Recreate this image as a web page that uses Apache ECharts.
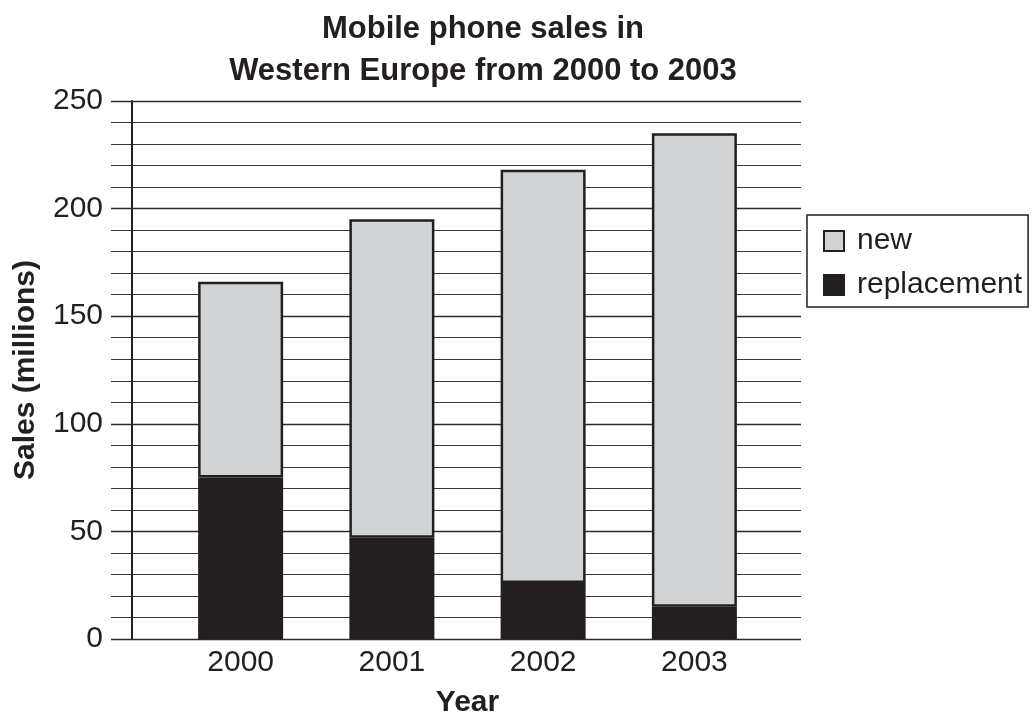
<!DOCTYPE html>
<html>
<head>
<meta charset="utf-8">
<script src="https://cdn.jsdelivr.net/npm/echarts@6/dist/echarts.min.js"></script>
<style>html,body{margin:0;padding:0;background:#fff}#c{width:1034px;height:714px}</style>
</head>
<body>
<div id="c"></div>
<script>
const years = ['2000', '2001', '2002', '2003'];
const replacementSales = [75, 47, 26, 15];
const newSales = [91, 148, 192, 220];
const yTicks = [0, 50, 100, 150, 200, 250];

const ink = '#231f20';
const grey = '#d1d3d4';
const font = '"Liberation Sans", Arial, Helvetica, sans-serif';

const chart = echarts.init(document.getElementById('c'), null, {renderer: 'canvas'});
chart.setOption({
  backgroundColor: '#fff',
  animation: false,
  textStyle: {fontFamily: font, color: ink},
  title: {
    text: 'Mobile phone sales in\nWestern Europe from 2000 to 2003',
    left: 478, top: 3, textAlign: 'center',
    textStyle: {fontFamily: font, fontWeight: 'bold', fontSize: 31, lineHeight: 42, color: ink}
  },
  legend: {
    data: ['new', 'replacement'],
    orient: 'vertical',
    left: 807, top: 215,
    padding: [11, 6, 7, 16],
    itemGap: 14,
    itemWidth: 20, itemHeight: 20,
    icon: 'rect',
    borderColor: ink, borderWidth: 1.5,
    textStyle: {fontFamily: font, fontSize: 30, color: ink, padding: [0, 0, 0, 8]}
  },
  grid: [
    {left: 111, right: 233, top: 101, bottom: 75, outerBoundsMode: 'none', containLabel: false},
    {left: 165, right: 264, top: 101, bottom: 75, outerBoundsMode: 'none', containLabel: false}
  ],
  xAxis: [
    {gridIndex: 0, type: 'value', min: 0, max: 1, show: false},
    {
      gridIndex: 1, type: 'category', data: years,
      axisLine: {show: false}, axisTick: {show: false},
      axisLabel: {fontFamily: font, fontSize: 30, color: ink, margin: 9},
      name: 'Year', nameLocation: 'middle', nameGap: 49,
      nameTextStyle: {fontFamily: font, fontWeight: 'bold', fontSize: 30, color: ink}
    }
  ],
  yAxis: [
    {
      gridIndex: 0, type: 'value', min: yTicks[0], max: yTicks[yTicks.length - 1], interval: 50,
      offset: -21,
      axisLine: {show: true, lineStyle: {color: ink, width: 2}},
      axisTick: {show: false},
      axisLabel: {fontFamily: font, fontSize: 30, color: ink, margin: 29},
      splitLine: {show: true, lineStyle: {color: '#2e2a2b', width: 1.3}},
      minorTick: {show: false, splitNumber: 5},
      minorSplitLine: {show: true, lineStyle: {color: '#3a3637', width: 1}},
      name: 'Sales (millions)', nameLocation: 'middle', nameGap: 91,
      nameTextStyle: {fontFamily: font, fontWeight: 'bold', fontSize: 30, color: ink}
    },
    {gridIndex: 1, type: 'value', min: 0, max: 250, show: false}
  ],
  series: [
    {
      name: 'replacement', type: 'bar', stack: 'total',
      xAxisIndex: 1, yAxisIndex: 1,
      data: replacementSales, barWidth: 85,
      itemStyle: {color: ink, borderColor: ink, borderWidth: 2}
    },
    {
      name: 'new', type: 'bar', stack: 'total',
      xAxisIndex: 1, yAxisIndex: 1,
      data: newSales, barWidth: 85,
      itemStyle: {color: grey, borderColor: ink, borderWidth: 2.5}
    }
  ]
});
</script>
</body>
</html>
